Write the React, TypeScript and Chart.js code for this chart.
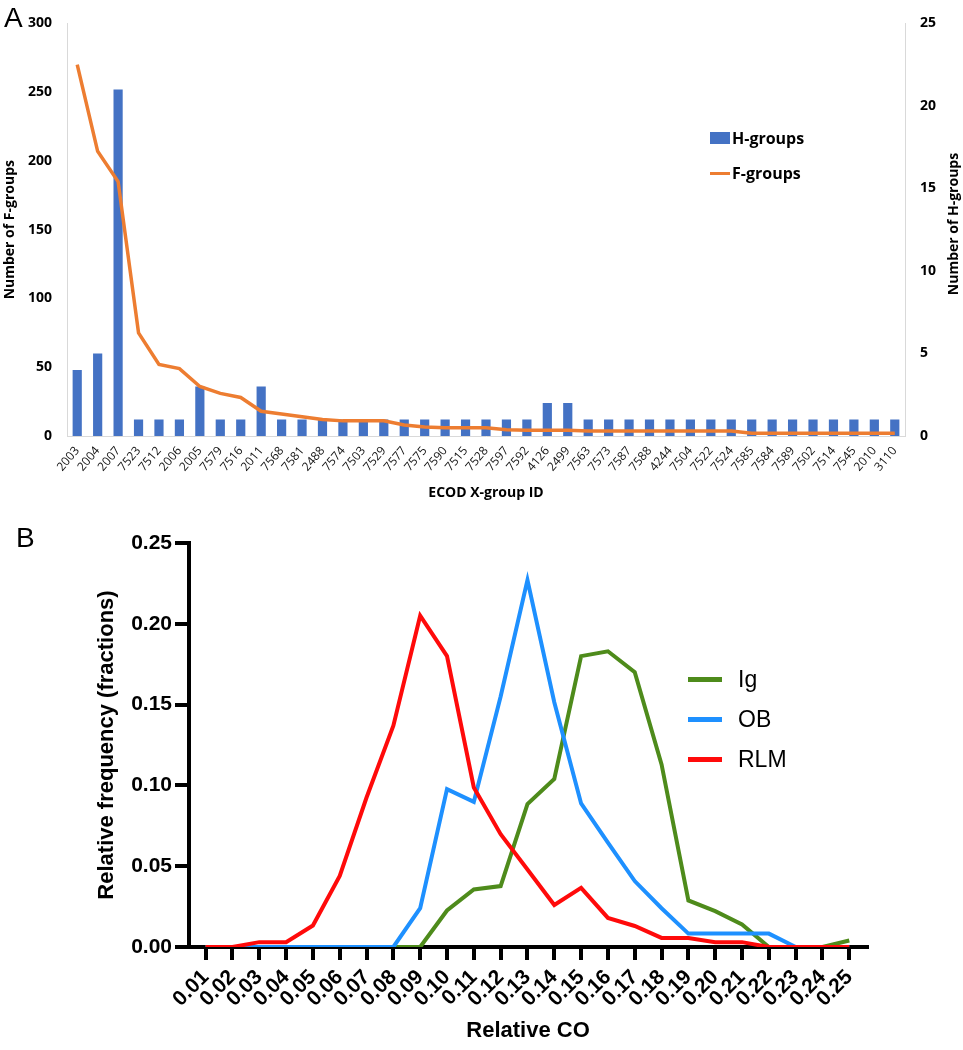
import React, { useEffect, useRef } from 'react';
import { Chart, registerables } from 'chart.js';

Chart.register(...registerables);

// ---------- Panel A data ----------
const xGroupIds = [
  '2003', '2004', '2007', '7523', '7512', '2006', '2005', '7579', '7516', '2011',
  '7568', '7581', '2488', '7574', '7503', '7529', '7577', '7575', '7590', '7515',
  '7528', '7597', '7592', '4126', '2499', '7563', '7573', '7587', '7588', '4244',
  '7504', '7522', '7524', '7585', '7584', '7589', '7502', '7514', '7545', '2010', '3110',
];
const hGroups = [
  4, 5, 21, 1, 1, 1, 3, 1, 1, 3,
  1, 1, 1, 1, 1, 1, 1, 1, 1, 1,
  1, 1, 1, 2, 2, 1, 1, 1, 1, 1,
  1, 1, 1, 1, 1, 1, 1, 1, 1, 1, 1,
];
const fGroups = [
  270, 207, 185, 75, 52, 49, 36, 31, 28, 18,
  16, 14, 12, 11, 11, 11, 8, 6.5, 6, 6,
  6, 4.5, 4.2, 4.2, 4.2, 3.6, 3.6, 3.6, 3.6, 3.6,
  3.6, 3.6, 3.6, 2, 2, 2, 2, 2, 2, 2, 2,
];
const fTicksMax = 300;
const hTicksMax = 25;

// ---------- Panel B data ----------
const relCO = [
  0.01, 0.02, 0.03, 0.04, 0.05, 0.06, 0.07, 0.08, 0.09, 0.10,
  0.11, 0.12, 0.13, 0.14, 0.15, 0.16, 0.17, 0.18, 0.19, 0.20,
  0.21, 0.22, 0.23, 0.24, 0.25,
];
const igVals = [
  0, 0, 0, 0, 0, 0, 0, 0, 0, 0.0226,
  0.0356, 0.0377, 0.0884, 0.104, 0.180, 0.183, 0.170, 0.113, 0.0288, 0.0222,
  0.0139, 0, 0, 0, 0.004,
];
const obVals = [
  0, 0, 0, 0, 0, 0, 0, 0, 0.024, 0.0977,
  0.0898, 0.155, 0.227, 0.1515, 0.0888, 0.0646, 0.0408, 0.024, 0.0083, 0.0083,
  0.0083, 0.0083, 0, 0, 0,
];
const rlmVals = [
  0, 0, 0.003, 0.003, 0.0133, 0.044, 0.0925, 0.137, 0.205, 0.180,
  0.0987, 0.0698, 0.048, 0.026, 0.0366, 0.018, 0.013, 0.0056, 0.0056, 0.003,
  0.003, 0, 0, 0, 0,
];

const BAR_BLUE = '#4472C4';
const LINE_ORANGE = '#ED7D31';
const IG_GREEN = '#4E8B1B';
const OB_BLUE = '#1E90FF';
const RLM_RED = '#FF0A0A';

const seriesB = [
  { label: 'Ig', values: igVals, color: IG_GREEN, order: 2 },
  { label: 'OB', values: obVals, color: OB_BLUE, order: 1 },
  { label: 'RLM', values: rlmVals, color: RLM_RED, order: 0 },
];

const OPEN = 'Open Sans, DejaVu Sans, sans-serif';
const ARIAL = 'Liberation Sans, Arial, sans-serif';

export default function App() {
  const refA = useRef<HTMLCanvasElement | null>(null);
  const refB = useRef<HTMLCanvasElement | null>(null);

  useEffect(() => {
    const chartA = new Chart(refA.current as HTMLCanvasElement, {
      type: 'bar',
      data: {
        labels: xGroupIds,
        datasets: [
          {
            type: 'line',
            label: 'F-groups',
            data: fGroups,
            yAxisID: 'yF',
            borderColor: LINE_ORANGE,
            backgroundColor: LINE_ORANGE,
            borderWidth: 3.5,
            pointRadius: 0,
            tension: 0,
            order: 0,
          } as any,
          {
            type: 'bar',
            label: 'H-groups',
            data: hGroups,
            yAxisID: 'yH',
            backgroundColor: BAR_BLUE,
            barPercentage: 0.45,
            categoryPercentage: 1,
            order: 1,
          } as any,
        ],
      },
      options: {
        responsive: false,
        animation: false,
        layout: { padding: { top: 12, left: 0, right: 0, bottom: 0 } },
        plugins: { legend: { display: false }, tooltip: { enabled: false } },
        scales: {
          x: {
            offset: true,
            grid: { display: false, drawTicks: false },
            border: { display: true, color: '#d9d9d9' },
            ticks: {
              autoSkip: false,
              minRotation: 50,
              maxRotation: 50,
              padding: 8,
              color: '#111',
              font: { family: OPEN, size: 12 },
            },
            title: {
              display: true,
              text: 'ECOD X-group ID',
              color: '#000',
              font: { family: OPEN, size: 14, weight: 'bold' },
              padding: { top: 0, bottom: 4 },
            },
            afterFit: (s: any) => { s.height = 69; },
          },
          yF: {
            position: 'left',
            min: 0,
            max: fTicksMax,
            grid: { display: false, drawTicks: false },
            border: { display: true, color: '#d9d9d9' },
            ticks: {
              stepSize: 50,
              padding: 15,
              color: '#000',
              font: { family: OPEN, size: 14, weight: 'bold' },
            },
            title: {
              display: true,
              text: 'Number of F-groups',
              color: '#000',
              font: { family: OPEN, size: 14, weight: 'bold' },
              padding: { top: 2, bottom: 0 },
            },
            afterFit: (s: any) => { s.width = 67; },
          },
          yH: {
            position: 'right',
            min: 0,
            max: hTicksMax,
            grid: { display: false, drawTicks: false },
            border: { display: true, color: '#d9d9d9' },
            ticks: {
              stepSize: 5,
              padding: 15,
              color: '#000',
              font: { family: OPEN, size: 14, weight: 'bold' },
            },
            afterFit: (s: any) => { s.width = 58; },
          },
        },
      } as any,
    });

    const chartB = new Chart(refB.current as HTMLCanvasElement, {
      type: 'line',
      data: {
        datasets: seriesB.map((s) => ({
          label: s.label,
          data: relCO.map((x, i) => ({ x, y: s.values[i] })),
          borderColor: s.color,
          backgroundColor: s.color,
          borderWidth: 4,
          pointRadius: 0,
          tension: 0,
          order: s.order,
          borderJoinStyle: 'miter',
        })) as any,
      },
      options: {
        responsive: false,
        animation: false,
        layout: { padding: { top: 38, left: 0, right: 96, bottom: 0 } },
        plugins: { legend: { display: false }, tooltip: { enabled: false } },
        scales: {
          x: {
            type: 'linear',
            min: 0.0038,
            max: 0.2566,
            afterBuildTicks: (s: any) => { s.ticks = relCO.map((v) => ({ value: v })); },
            grid: { display: true, drawOnChartArea: false, drawTicks: true, tickLength: 13, lineWidth: 4, color: '#000' },
            border: { display: true, width: 4, color: '#000' },
            ticks: {
              autoSkip: false,
              minRotation: 45,
              maxRotation: 45,
              padding: 5,
              color: '#000',
              font: { family: ARIAL, size: 21, weight: 'bold' },
              callback: (v: any) => Number(v).toFixed(2),
            },
            title: {
              display: true,
              text: 'Relative CO',
              color: '#000',
              font: { family: ARIAL, size: 22, weight: 'bold' },
              padding: { top: 0, bottom: 6 },
            },
            afterFit: (s: any) => { s.height = 103; },
          },
          y: {
            min: 0,
            max: 0.25,
            grid: { display: true, drawOnChartArea: false, drawTicks: true, tickLength: 14, lineWidth: 4, color: '#000' },
            border: { display: true, width: 4, color: '#000' },
            ticks: {
              stepSize: 0.05,
              padding: 3,
              color: '#000',
              font: { family: ARIAL, size: 21, weight: 'bold' },
              callback: (v: any) => Number(v).toFixed(2),
            },
            title: {
              display: true,
              text: 'Relative frequency (fractions)',
              color: '#000',
              font: { family: ARIAL, size: 22, weight: 'bold' },
              padding: { top: 94, bottom: 0 },
            },
            afterFit: (s: any) => { s.width = 189; },
          },
        },
      } as any,
    });

    return () => {
      chartA.destroy();
      chartB.destroy();
    };
  }, []);

  const abs = (o: React.CSSProperties): React.CSSProperties => ({ position: 'absolute', ...o });

  return (
    <div style={abs({ left: 0, top: 0, width: 963, height: 1050, background: '#fff', overflow: 'hidden' })}>
      <canvas ref={refA} width={963} height={505} style={abs({ left: 0, top: 0, width: 963, height: 505 })} />
      <canvas ref={refB} width={963} height={545} style={abs({ left: 0, top: 505, width: 963, height: 545 })} />

      {/* panel letters */}
      <div style={abs({ left: 4, top: 4, fontFamily: ARIAL, fontSize: 28, lineHeight: '28px', color: '#000' })}>A</div>
      <div style={abs({ left: 16, top: 524, fontFamily: ARIAL, fontSize: 28, lineHeight: '28px', color: '#000' })}>B</div>

      {/* right axis title of panel A */}
      <div
        style={abs({
          left: 953 - 100,
          top: 224 - 10,
          width: 200,
          height: 20,
          lineHeight: '20px',
          textAlign: 'center',
          transform: 'rotate(-90deg)',
          fontFamily: OPEN,
          fontSize: 14,
          fontWeight: 'bold',
          color: '#000',
        })}
      >
        Number of H-groups
      </div>

      {/* legend panel A */}
      <div style={abs({ left: 710, top: 128, height: 20, display: 'flex', alignItems: 'center', fontFamily: OPEN, fontSize: 16, fontWeight: 'bold', color: '#000' })}>
        <span style={{ display: 'inline-block', width: 20, height: 12, background: BAR_BLUE, marginRight: 2 }} />
        H-groups
      </div>
      <div style={abs({ left: 710, top: 163, height: 20, display: 'flex', alignItems: 'center', fontFamily: OPEN, fontSize: 16, fontWeight: 'bold', color: '#000' })}>
        <span style={{ display: 'inline-block', width: 20, height: 3, background: LINE_ORANGE, marginRight: 2 }} />
        F-groups
      </div>

      {/* legend panel B */}
      {seriesB.map((s, i) => (
        <div
          key={s.label}
          style={abs({ left: 688, top: 679 + i * 40 - 14, height: 28, display: 'flex', alignItems: 'center', fontFamily: ARIAL, fontSize: 23, color: '#000' })}
        >
          <span style={{ display: 'inline-block', width: 34, height: 5, background: s.color, marginRight: 16 }} />
          {s.label}
        </div>
      ))}
    </div>
  );
}
